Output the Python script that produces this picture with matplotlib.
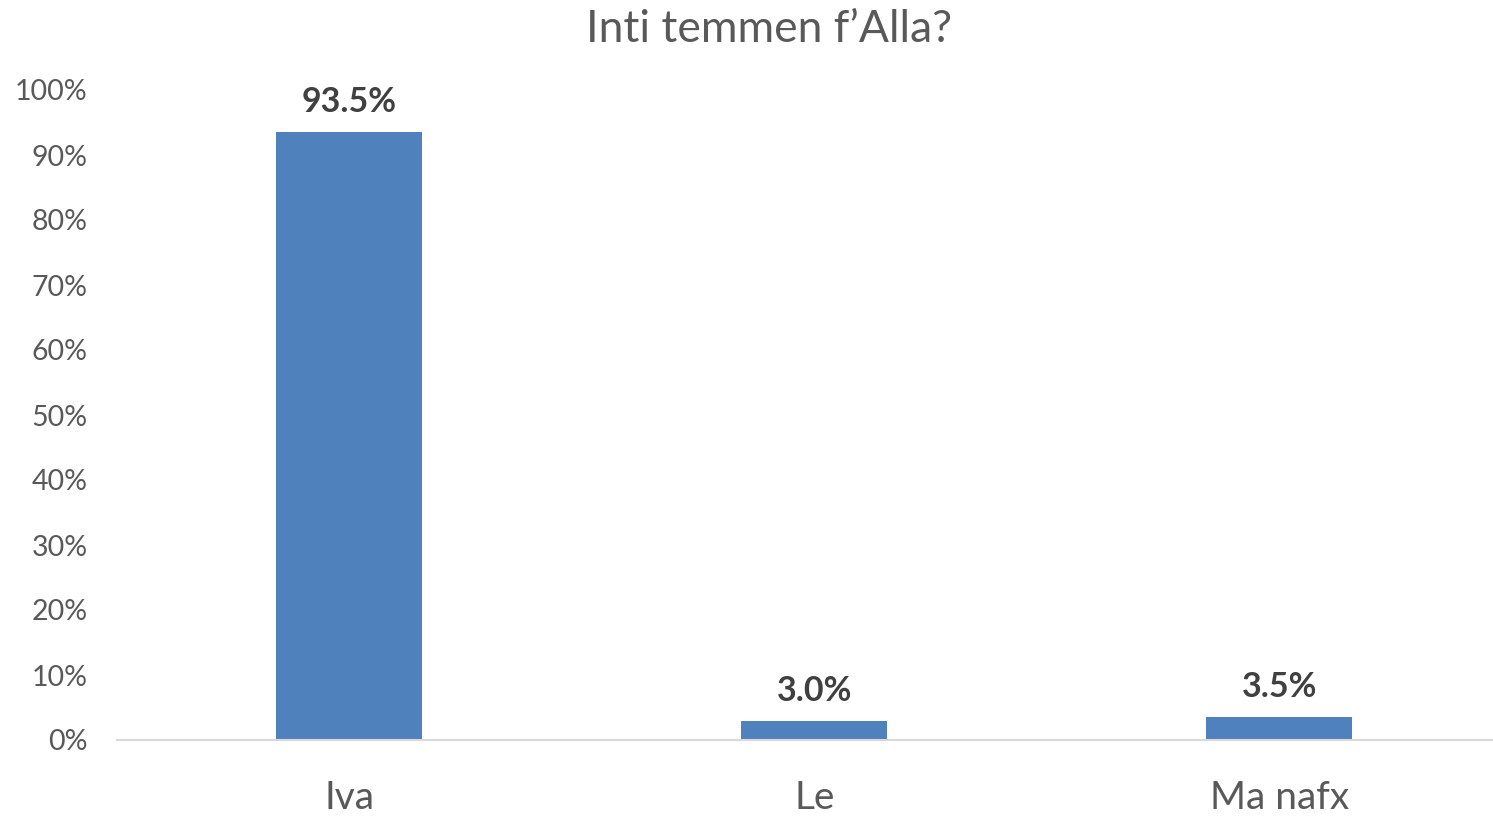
import matplotlib.pyplot as plt
from matplotlib.ticker import PercentFormatter

categories = ['Iva', 'Le', 'Ma nafx']
values = [93.5, 3.0, 3.5]
labels = ['93.5%', '3.0%', '3.5%']
title = 'Inti temmen f\u2019Alla?'

plt.rcParams['font.family'] = ['Lato', 'DejaVu Sans']

fig = plt.figure(figsize=(14.93, 8.16), dpi=100)
ax = fig.add_axes([117 / 1493, 76 / 816, 1 - 117 / 1493, 650 / 816])

x = list(range(len(categories)))
ax.bar(x, values, width=0.314, color='#4F81BD', zorder=2)
for xi, v, lab in zip(x, values, labels):
    ax.annotate(lab, (xi, v), xytext=(0, 10), textcoords='offset points',
                ha='center', va='bottom', fontsize=24.5, fontweight='bold', color='#404040')

ax.set_xlim(-0.5, 2.46)
ax.set_ylim(0, 100)
ax.set_yticks(range(0, 101, 10))
ax.yaxis.set_major_formatter(PercentFormatter(decimals=0))
ax.set_xticks(x)
ax.set_xticklabels(categories, fontsize=28, color='#595959')
ax.tick_params(axis='y', labelsize=20.5, labelcolor='#595959', length=0, pad=21)
ax.tick_params(axis='x', length=0, pad=29)
for t in ax.get_yticklabels():
    t.set_horizontalalignment('right')

for s in ['top', 'right', 'left']:
    ax.spines[s].set_visible(False)
ax.spines['bottom'].set_color('#D9D9D9')
ax.spines['bottom'].set_linewidth(1.5)

fig.text(769 / 1493, 1 - 30 / 816, title, ha='center', va='center', fontsize=32, color='#595959')

fig.savefig('out.png', dpi=100)
